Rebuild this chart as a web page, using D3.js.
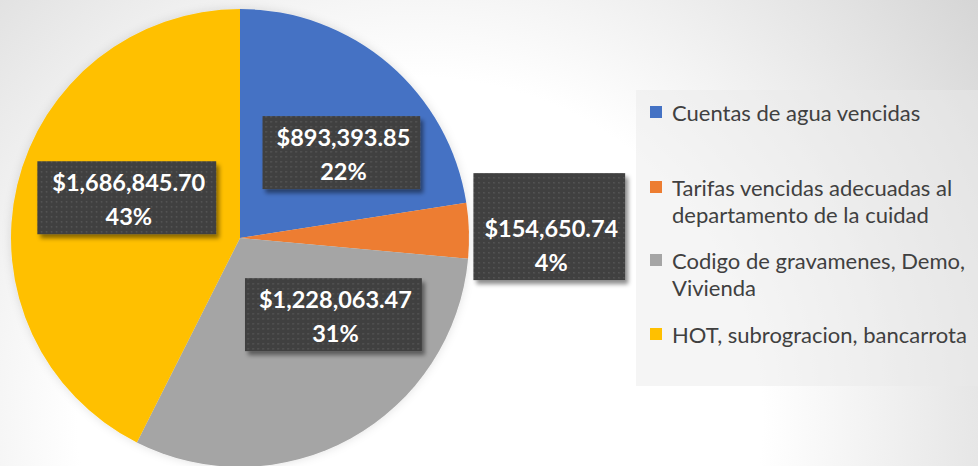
<!DOCTYPE html>
<html lang="en">

<head>
    <meta charset="UTF-8">
    <title>Pie</title>
    <style>
        body {
            margin: 0;
            overflow: hidden;
        }

        .lbl text {
            font: bold 23.5px Lato, sans-serif;
            fill: #fff;
            text-anchor: middle;
            dominant-baseline: central;
        }

        .legend text {
            font: 22px Lato, sans-serif;
            fill: #404040;
            dominant-baseline: central;
        }
    </style>
</head>

<body>
    <script src="https://d3js.org/d3.v7.min.js"></script>
    <script>
        // data
        const categories = [
            "Cuentas de agua vencidas",
            "Tarifas vencidas adecuadas al departamento de la cuidad",
            "Codigo de gravamenes, Demo, Vivienda",
            "HOT, subrogracion, bancarrota"
        ];
        const legendLines = [
            ["Cuentas de agua vencidas"],
            ["Tarifas vencidas adecuadas al", "departamento de la cuidad"],
            ["Codigo de gravamenes, Demo,", "Vivienda"],
            ["HOT, subrogracion, bancarrota"]
        ];
        const values = [893393.85, 154650.74, 1228063.47, 1686845.70];
        const percentLabels = ["22%", "4%", "31%", "43%"];
        const colors = ["#4472C4", "#ED7D31", "#A5A5A5", "#FFC000"];

        // layout tweaks for the data labels (not data)
        const labelRadius = [0.58, 1.36, 0.58, 0.58];
        const labelNudge = [[17, 17], [0, 17], [31, -38], [18, -8]];
        const boxPad = [12, 9, 12, 13];
        const boxExtraTop = [0, 34, 0, 0];

        const width = 978;
        const height = 466;
        const cx = 240, cy = 238, R = 229;

        const svg = d3.select("body").append("svg")
            .attr("width", width)
            .attr("height", height);

        const defs = svg.append("defs");

        const bg = defs.append("radialGradient")
            .attr("id", "bg")
            .attr("gradientUnits", "userSpaceOnUse")
            .attr("cx", 420).attr("cy", 420).attr("r", 760);
        bg.append("stop").attr("offset", 0).attr("stop-color", "#ffffff");
        bg.append("stop").attr("offset", 0.45).attr("stop-color", "#ffffff");
        bg.append("stop").attr("offset", 0.77).attr("stop-color", "#e3e3e3");
        bg.append("stop").attr("offset", 1).attr("stop-color", "#cecece");

        const pat = defs.append("pattern")
            .attr("id", "dots")
            .attr("patternUnits", "userSpaceOnUse")
            .attr("width", 5).attr("height", 5);
        pat.append("rect").attr("width", 5).attr("height", 5).attr("fill", "#404040");
        pat.append("rect").attr("x", 2).attr("y", 2).attr("width", 1.4).attr("height", 1.4).attr("fill", "#5c5c5c");

        const sh = defs.append("filter").attr("id", "shadow")
            .attr("x", "-20%").attr("y", "-20%").attr("width", "150%").attr("height", "150%");
        sh.append("feDropShadow")
            .attr("dx", 3).attr("dy", 4).attr("stdDeviation", 2)
            .attr("flood-color", "#000").attr("flood-opacity", 0.45);

        const glow = defs.append("filter").attr("id", "glow")
            .attr("x", "-10%").attr("y", "-10%").attr("width", "120%").attr("height", "120%");
        glow.append("feDropShadow")
            .attr("dx", 0).attr("dy", 0).attr("stdDeviation", 5)
            .attr("flood-color", "#000").attr("flood-opacity", 0.12);

        svg.append("rect")
            .attr("width", width).attr("height", height)
            .attr("fill", "url(#bg)");

        // legend background
        svg.append("rect")
            .attr("x", 636).attr("y", 90)
            .attr("width", 342).attr("height", 296)
            .attr("fill", "#eaeaea")
            .attr("fill-opacity", 0.47);

        const pie = d3.pie().sort(null).value(d => d);
        const arcs = pie(values);
        const arc = d3.arc().innerRadius(0).outerRadius(R);

        const g = svg.append("g")
            .attr("transform", `translate(${cx},${cy})`);

        g.append("g")
            .attr("filter", "url(#glow)")
            .selectAll("path")
            .data(arcs)
            .join("path")
            .attr("d", arc)
            .attr("fill", (d, i) => colors[i]);

        const fmt = d3.format("$,.2f");

        const lbl = g.selectAll(".lbl")
            .data(arcs)
            .join("g")
            .attr("class", "lbl")
            .attr("transform", (d, i) => {
                const r = R * labelRadius[i];
                const c = d3.arc().innerRadius(r).outerRadius(r).centroid(d);
                return `translate(${c[0] + labelNudge[i][0]},${c[1] + labelNudge[i][1]})`;
            });

        lbl.append("rect")
            .attr("fill", "url(#dots)")
            .attr("filter", "url(#shadow)");

        lbl.append("text")
            .attr("y", -17)
            .text((d, i) => fmt(values[i]));
        lbl.append("text")
            .attr("y", 17)
            .text((d, i) => percentLabels[i]);

        lbl.each(function (d, i) {
            const t = d3.select(this).select("text").node();
            const w = t.getComputedTextLength() + 2 * boxPad[i];
            d3.select(this).select("rect")
                .attr("x", -w / 2 - 2)
                .attr("y", -38 - boxExtraTop[i])
                .attr("width", w)
                .attr("height", 73 + boxExtraTop[i]);
        });

        // legend
        const legendRowY = [112, 187, 260, 334];
        const lineH = 27.5;
        const leg = svg.append("g").attr("class", "legend")
            .selectAll("g")
            .data(categories)
            .join("g")
            .attr("transform", (d, i) => `translate(650,${legendRowY[i]})`);

        leg.append("rect")
            .attr("x", 0).attr("y", -6)
            .attr("width", 12).attr("height", 12)
            .attr("fill", (d, i) => colors[i]);

        leg.each(function (d, i) {
            d3.select(this).selectAll("text")
                .data(legendLines[i])
                .join("text")
                .attr("x", 22)
                .attr("y", (s, j) => j * lineH)
                .text(s => s);
        });
    </script>
</body>

</html>
